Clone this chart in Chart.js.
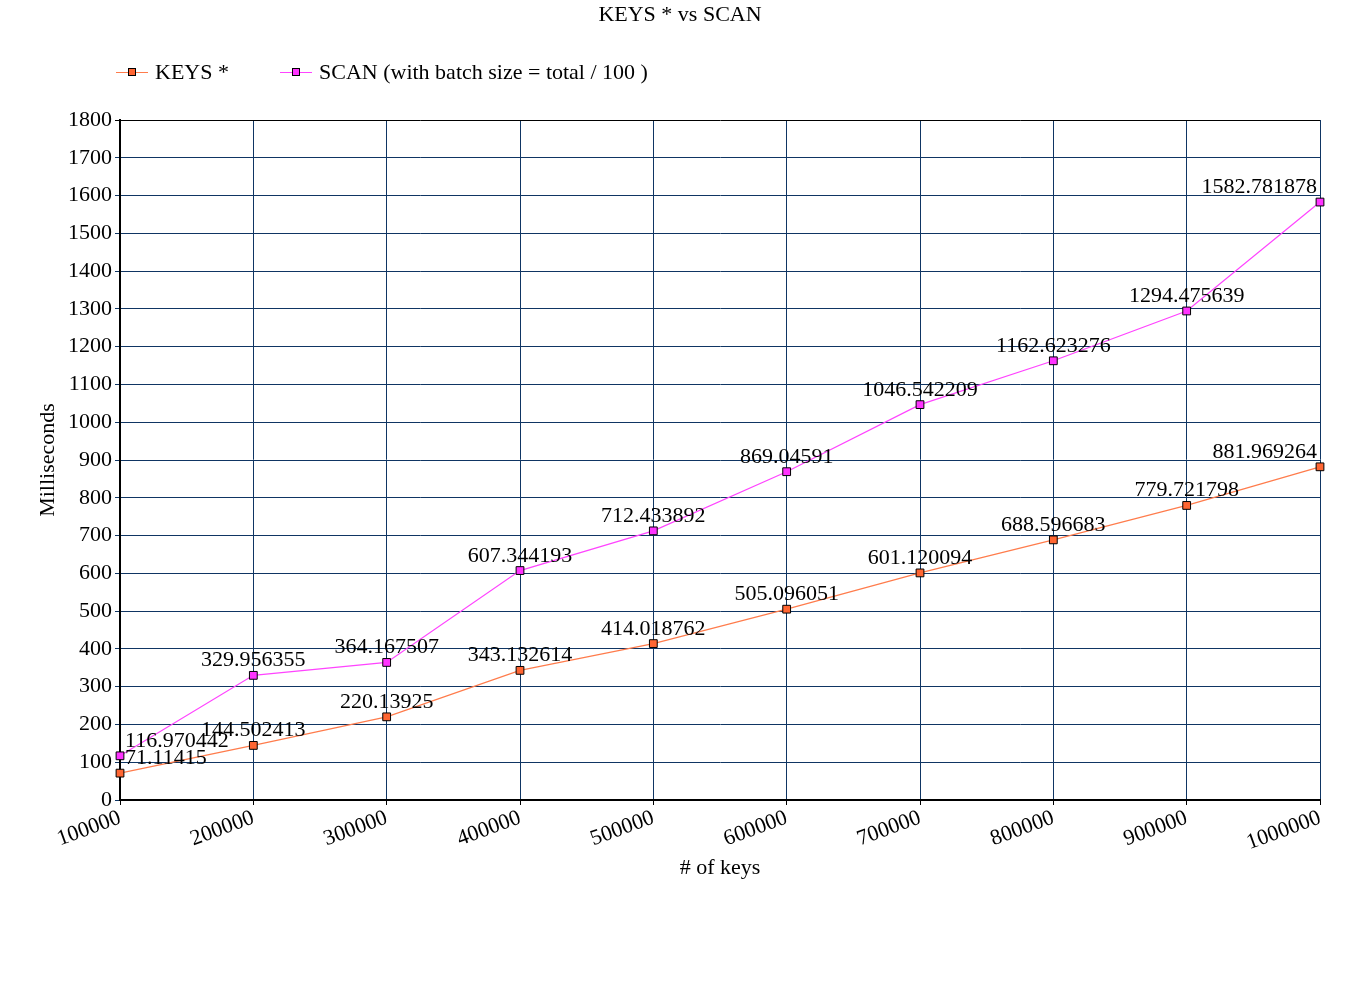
<!DOCTYPE html>
<html>
<head>
<meta charset="utf-8">
<script src="https://cdn.jsdelivr.net/npm/chart.js@4.4.1/dist/chart.umd.min.js"></script>
<style>
html,body{margin:0;padding:0;background:#fff;}
#wrap{width:1360px;height:1000px;position:relative;}
</style>
</head>
<body>
<div id="wrap"><canvas id="c" width="1360" height="1000"></canvas></div>
<script>
const chartTitle = "KEYS * vs SCAN";
const categories = ["100000","200000","300000","400000","500000","600000","700000","800000","900000","1000000"];
const keysLabel = "KEYS *";
const keysValues = [71.11415, 144.502413, 220.13925, 343.132614, 414.018762, 505.096051, 601.120094, 688.596683, 779.721798, 881.969264];
const scanLabel = "SCAN (with batch size = total / 100 )";
const scanValues = [116.970442, 329.956355, 364.167507, 607.344193, 712.433892, 869.04591, 1046.542209, 1162.623276, 1294.475639, 1582.781878];
const xTitle = "# of keys";
const yTitle = "Milliseconds";
const yMin = 0, yMax = 1800, yStep = 100;

const FONT = "'Liberation Serif', 'Times New Roman', serif";
const GRID = '#0f3563';

const labelsPlugin = {
  id: 'pointLabels',
  afterDatasetsDraw(chart) {
    const ctx = chart.ctx;
    ctx.save();
    ctx.font = '22px ' + FONT;
    ctx.fillStyle = '#000';
    ctx.textBaseline = 'alphabetic';
    chart.data.datasets.forEach((ds, di) => {
      const meta = chart.getDatasetMeta(di);
      meta.data.forEach((pt, i) => {
        const txt = String(ds.data[i]);
        let x = pt.x;
        if (i === 0) { ctx.textAlign = 'left'; x = pt.x + 5; }
        else if (i === meta.data.length - 1) { ctx.textAlign = 'right'; x = pt.x - 3; }
        else { ctx.textAlign = 'center'; }
        ctx.fillText(txt, x, pt.y - 9);
      });
    });
    ctx.restore();
  }
};

const headerPlugin = {
  id: 'header',
  afterDraw(chart) {
    const ctx = chart.ctx;
    ctx.save();
    ctx.font = '22px ' + FONT;
    ctx.fillStyle = '#000';
    ctx.textAlign = 'center';
    ctx.textBaseline = 'middle';
    ctx.fillText(chartTitle, 680, 15);
    const starts = [116, 280];
    const y = 72;
    chart.data.datasets.forEach((ds, di) => {
      const x0 = starts[di];
      ctx.strokeStyle = ds.borderColor;
      ctx.lineWidth = 1;
      ctx.beginPath();
      ctx.moveTo(x0, y + 0.5);
      ctx.lineTo(x0 + 32, y + 0.5);
      ctx.stroke();
      ctx.fillStyle = ds.pointBackgroundColor;
      ctx.fillRect(x0 + 12, y - 4, 8, 8);
      ctx.strokeStyle = '#000';
      ctx.strokeRect(x0 + 12.5, y - 3.5, 7, 7);
      ctx.fillStyle = '#000';
      ctx.textAlign = 'left';
      ctx.fillText(ds.label, x0 + 39, y + 1);
    });
    ctx.restore();
  }
};

new Chart(document.getElementById('c'), {
  type: 'line',
  data: {
    labels: categories,
    datasets: [
      {
        label: keysLabel,
        data: keysValues,
        borderColor: '#ff7c4c',
        backgroundColor: '#ff6633',
        pointBackgroundColor: '#ff6633',
        pointBorderColor: '#000',
        pointBorderWidth: 1,
        pointStyle: 'rect',
        pointRadius: 5.5,
        borderWidth: 1.2,
        tension: 0
      },
      {
        label: scanLabel,
        data: scanValues,
        borderColor: '#ff44ff',
        backgroundColor: '#ff33ff',
        pointBackgroundColor: '#ff33ff',
        pointBorderColor: '#000',
        pointBorderWidth: 1,
        pointStyle: 'rect',
        pointRadius: 5.5,
        borderWidth: 1.2,
        tension: 0
      }
    ]
  },
  options: {
    responsive: false,
    animation: false,
    devicePixelRatio: 1,
    layout: { padding: { top: 120, right: 40, left: 0, bottom: 0 } },
    plugins: {
      legend: { display: false },
      title: { display: false },
      tooltip: { enabled: false }
    },
    scales: {
      x: {
        type: 'category',
        offset: false,
        afterFit(scale) { scale.height = 200; },
        grid: {
          offset: false,
          color: (c) => c.index === 0 ? '#000' : GRID,
          tickColor: '#000',
          tickLength: 5,
          lineWidth: 1
        },
        border: { display: true, color: '#000', width: 2 },
        ticks: {
          font: { family: FONT, size: 22 },
          color: '#000',
          minRotation: 20,
          maxRotation: 20,
          autoSkip: false,
          padding: 0
        },
        title: {
          display: true,
          text: xTitle,
          font: { family: FONT, size: 22 },
          color: '#000',
          padding: { top: 4, bottom: 119 }
        }
      },
      y: {
        min: yMin,
        max: yMax,
        afterFit(scale) { scale.width = 120; },
        grid: {
          color: (c) => (c.tick && c.tick.value === yMax) ? '#000' : GRID,
          tickColor: (c) => (c.tick && c.tick.value === yMax) ? '#000' : GRID,
          tickLength: 5,
          lineWidth: 1
        },
        border: { display: true, color: '#000', width: 2 },
        ticks: {
          stepSize: yStep,
          font: { family: FONT, size: 22 },
          color: '#000',
          padding: 3,
          callback: (v) => String(v)
        },
        title: {
          display: true,
          text: yTitle,
          font: { family: FONT, size: 22 },
          color: '#000',
          padding: { top: 35, bottom: 4 }
        }
      }
    }
  },
  plugins: [labelsPlugin, headerPlugin]
});
</script>
</body>
</html>
